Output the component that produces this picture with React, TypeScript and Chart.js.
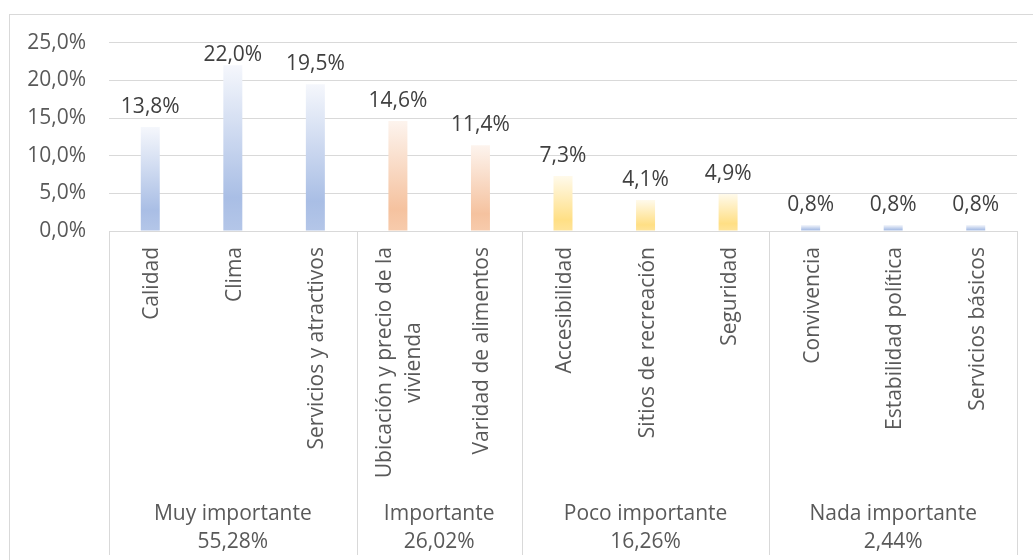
import React, { useEffect, useRef } from 'react';
import { Chart, registerables } from 'chart.js';

Chart.register(...registerables);

// ---- data ----
const categories = [
  'Calidad',
  'Clima',
  'Servicios y atractivos',
  'Ubicación y precio de la\nvivienda',
  'Varidad de alimentos',
  'Accesibilidad',
  'Sitios de recreación',
  'Seguridad',
  'Convivencia',
  'Estabilidad política',
  'Servicios básicos',
];
const values = [13.8, 22.0, 19.5, 14.6, 11.4, 7.3, 4.1, 4.9, 0.8, 0.8, 0.8];
const groupNames = ['Muy importante', 'Importante', 'Poco importante', 'Nada importante'];
const groupShares = ['55,28%', '26,02%', '16,26%', '2,44%'];
const groupSizes = [3, 2, 3, 3];
const yMin = 0;
const yMax = 25;
const yStep = 5;

// ---- styles ----
const FONT_FAMILY = '"Open Sans", sans-serif';
const FONT_SIZE = 21;
const AXIS_TEXT = '#595959';
const LABEL_TEXT = '#404040';
const LINE_COLOR = '#d9d9d9';
const palettes: string[][] = [
  ['#f5f7fc', '#a9bee5', '#b4c6e8'],
  ['#fdf4ee', '#f5c29f', '#f7cbac'],
  ['#fffaeb', '#ffdf85', '#ffe49a'],
  ['#f5f7fc', '#a9bee5', '#b4c6e8'],
];

const groupOfIndex: number[] = [];
groupSizes.forEach((n, g) => {
  for (let k = 0; k < n; k++) groupOfIndex.push(g);
});

const fmt = (v: number, d = 1) => v.toFixed(d).replace('.', ',') + '%';

const decorPlugin = {
  id: 'decor',
  beforeDraw(chart: any) {
    const { ctx, width, height } = chart;
    ctx.save();
    ctx.fillStyle = '#ffffff';
    ctx.fillRect(0, 0, width, height);
    ctx.strokeStyle = LINE_COLOR;
    ctx.lineWidth = 1;
    ctx.strokeRect(9.5, 14.5, width + 20, height + 20);
    ctx.restore();
  },
  afterDraw(chart: any) {
    const { ctx, chartArea, scales } = chart;
    const xs = scales.x;
    const font = `${FONT_SIZE}px ${FONT_FAMILY}`;
    ctx.save();
    // separators of groups
    ctx.strokeStyle = LINE_COLOR;
    ctx.lineWidth = 1;
    let start = 0;
    const bounds: number[] = [start];
    groupSizes.forEach((n) => {
      start += n;
      bounds.push(start);
    });
    bounds.forEach((b) => {
      const x = Math.round(xs.getPixelForValue(b - 0.5)) + 0.5;
      ctx.beginPath();
      ctx.moveTo(x, chartArea.bottom);
      ctx.lineTo(x, 555);
      ctx.stroke();
    });

    // category labels (rotated)
    ctx.font = font;
    ctx.fillStyle = AXIS_TEXT;
    ctx.textBaseline = 'middle';
    categories.forEach((c, i) => {
      const lines = c.split('\n');
      const x = xs.getPixelForValue(i) + 2;
      const maxW = Math.max(...lines.map((l) => ctx.measureText(l).width));
      ctx.save();
      ctx.translate(x, chartArea.bottom + 16);
      ctx.rotate(-Math.PI / 2);
      ctx.textAlign = 'center';
      lines.forEach((l, k) => {
        ctx.fillText(l, -maxW / 2, (k - (lines.length - 1) / 2) * 29);
      });
      ctx.restore();
    });

    // group labels
    ctx.textAlign = 'center';
    ctx.textBaseline = 'alphabetic';
    groupNames.forEach((g, gi) => {
      const x0 = xs.getPixelForValue(bounds[gi] - 0.5);
      const x1 = xs.getPixelForValue(bounds[gi + 1] - 0.5);
      const cx = (x0 + x1) / 2;
      ctx.fillText(g, cx, 520);
      ctx.fillText(groupShares[gi], cx, 548);
    });
    ctx.restore();
  },
  afterDatasetsDraw(chart: any) {
    const { ctx, chartArea } = chart;
    const meta = chart.getDatasetMeta(0);
    ctx.save();
    ctx.font = `${FONT_SIZE}px ${FONT_FAMILY}`;
    ctx.fillStyle = LABEL_TEXT;
    ctx.textAlign = 'center';
    ctx.textBaseline = 'middle';
    meta.data.forEach((bar: any, i: number) => {
      const cy = Math.max(bar.y - 20, chartArea.top + 12);
      ctx.fillText(fmt(values[i]), bar.x, cy);
    });
    ctx.restore();
  },
};

export default function App() {
  const ref = useRef<HTMLCanvasElement | null>(null);

  useEffect(() => {
    document.body.style.margin = '0';
    const canvas = ref.current;
    if (!canvas) return;
    const chart = new Chart(canvas, {
      type: 'bar',
      data: {
        labels: categories.map((c) => c.replace('\n', ' ')),
        datasets: [
          {
            data: values,
            borderWidth: 0,
            categoryPercentage: 1,
            barPercentage: 0.23,
            backgroundColor: (ctx: any) => {
              const i = ctx.dataIndex;
              const pal = palettes[groupOfIndex[i] ?? 0];
              const chart = ctx.chart;
              const ys = chart.scales?.y;
              if (i === undefined || !chart.chartArea || !ys) return pal[1];
              const top = ys.getPixelForValue(values[i]);
              const bot = ys.getPixelForValue(0);
              if (!isFinite(top) || !isFinite(bot) || bot - top < 0.5) return pal[1];
              const g = chart.ctx.createLinearGradient(0, top, 0, bot);
              g.addColorStop(0, pal[0]);
              g.addColorStop(0.8, pal[1]);
              g.addColorStop(1, pal[2]);
              return g;
            },
          },
        ],
      },
      options: {
        animation: false,
        responsive: false,
        maintainAspectRatio: false,
        layout: { padding: { left: 0, right: 16, top: 42.7, bottom: 0 } },
        plugins: {
          legend: { display: false },
          tooltip: { enabled: false },
          title: { display: false },
        },
        scales: {
          x: {
            grid: { display: false, drawTicks: false },
            border: { display: false },
            ticks: { display: false },
            afterFit: (s: any) => {
              s.height = 329;
            },
          },
          y: {
            min: yMin,
            max: yMax,
            grid: { color: LINE_COLOR, lineWidth: 1, drawTicks: false },
            border: { display: false },
            ticks: {
              stepSize: yStep,
              padding: 23,
              color: AXIS_TEXT,
              font: { family: FONT_FAMILY, size: FONT_SIZE },
              callback: (v: any) => fmt(Number(v)),
            },
            afterFit: (s: any) => {
              s.width = 109;
            },
          },
        },
      },
      plugins: [decorPlugin],
    } as any);
    return () => chart.destroy();
  }, []);

  return (
    <div style={{ width: 1033, height: 560 }}>
      <canvas ref={ref} width={1033} height={560} style={{ display: 'block' }} />
    </div>
  );
}
